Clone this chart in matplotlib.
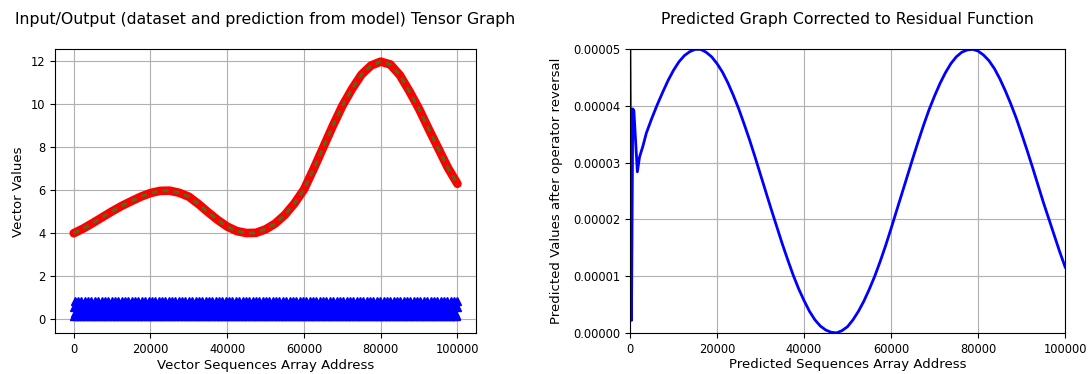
import numpy as np
import matplotlib
matplotlib.use("Agg")
import matplotlib.pyplot as plt
from matplotlib.ticker import FormatStrFormatter

vec_x = np.arange(0, 100001, 2500)
vec_y = [4.00, 4.22, 4.48, 4.75, 5.02, 5.27, 5.49, 5.70, 5.87, 5.97,
         5.98, 5.88, 5.70, 5.36, 4.98, 4.62, 4.31, 4.10, 4.01, 4.02,
         4.18, 4.45, 4.85, 5.38, 6.03, 6.98, 7.98, 8.98, 9.92, 10.70,
         11.38, 11.80, 11.98, 11.85, 11.35, 10.60, 9.78, 8.85, 7.95, 7.05,
         6.30]

# bande bleue (entrees entre 0 et 1)
band_x = np.arange(0, 100001, 125)
band_cycle = [0.15, 0.55, 0.85, 0.3, 0.7, 0.2, 0.6]

res_x = [0, 350, 650, 900, 1700, 2200, 3000, 3750, 5000, 6250, 7500, 8750,
         10000, 11250, 12500, 13750, 15000, 16250, 17500, 18750, 20000,
         21250, 22500, 23750, 25000, 26250, 27500, 28750, 30000, 31250,
         32500, 33750, 35000, 36250, 37500, 38750, 40000, 41250, 42500,
         43750, 45000, 46250, 47500, 48750, 50000, 51250, 52500, 53750,
         55000, 56250, 57500, 58750, 60000, 61250, 62500, 63750, 65000,
         66250, 67500, 68750, 70000, 71250, 72500, 73750, 75000, 76250,
         77500, 78750, 80000, 81250, 82500, 83750, 85000, 86250, 87500,
         88750, 90000, 91250, 92500, 93750, 95000, 96250, 97500, 98750,
         100000]
res_y = [5.00, 0.22, 3.95, 3.92, 2.84, 3.10, 3.30, 3.52, 3.78, 4.02, 4.24, 4.45,
         4.63, 4.78, 4.89, 4.96, 5.00, 5.00, 4.95, 4.87, 4.75,
         4.60, 4.41, 4.19, 3.95, 3.68, 3.40, 3.10, 2.79, 2.48,
         2.17, 1.87, 1.57, 1.29, 1.02, 0.78, 0.57, 0.38, 0.23,
         0.12, 0.05, 0.01, 0.00, 0.04, 0.11, 0.23, 0.38, 0.56,
         0.77, 1.00, 1.26, 1.54, 1.84, 2.15, 2.46, 2.77, 3.08,
         3.38, 3.67, 3.94, 4.18, 4.40, 4.59, 4.75, 4.87, 4.95,
         4.99, 5.00, 4.97, 4.90, 4.80, 4.66, 4.48, 4.27, 4.04,
         3.79, 3.51, 3.22, 2.92, 2.61, 2.30, 2.01, 1.72, 1.43,
         1.16]

plt.rcParams["font.family"] = "DejaVu Sans"
plt.rcParams["font.size"] = 8.3

fig = plt.figure(figsize=(10.88, 3.74), dpi=100)
ax1 = fig.add_axes([0.0506, 0.109, 0.387, 0.759])
ax2 = fig.add_axes([0.579, 0.110, 0.400, 0.758])

# **1. Graphique entree / sortie**
band_y = np.resize(band_cycle, len(band_x))
ax1.plot(band_x, band_y, "b^", markersize=6, linestyle="none")
ax1.plot(vec_x, vec_y, "r-", linewidth=6.2, solid_capstyle="round", solid_joinstyle="round")
ax1.plot(vec_x, vec_y, color="#56681c", linewidth=2.2, linestyle=(0, (2, 1.6)))
ax1.set_xticks(np.arange(0, 100001, 20000))
ax1.set_yticks(np.arange(0, 13, 2))
ax1.set_xlim(-4870, 104870)
ax1.set_ylim(-0.65, 12.55)
ax1.set_xlabel("Vector Sequences Array Address", fontsize=9.5, labelpad=2)
ax1.set_ylabel("Vector Values", fontsize=9.5)
ax1.set_title("Input/Output (dataset and prediction from model) Tensor Graph", fontsize=11.3, pad=18)
ax1.grid(True)

# **2. Graphique corrige**
ax2.plot(res_x, np.array(res_y) * 1e-5, "b-", linewidth=2)
ax2.set_xlim(0, 100000)
ax2.set_ylim(0, 5e-5)
ax2.set_xticks(np.arange(0, 100001, 20000))
ax2.set_yticks(np.arange(0, 6) * 1e-5)
ax2.yaxis.set_major_formatter(FormatStrFormatter("%.5f"))
ax2.set_xlabel("Predicted Sequences Array Address", fontsize=9.5, labelpad=2)
ax2.set_ylabel("Predicted Values after operator reversal", fontsize=9.5, labelpad=7)
ax2.set_title("Predicted Graph Corrected to Residual Function", fontsize=11.3, pad=18)
ax2.grid(True)

fig.savefig("out.png", dpi=100)
